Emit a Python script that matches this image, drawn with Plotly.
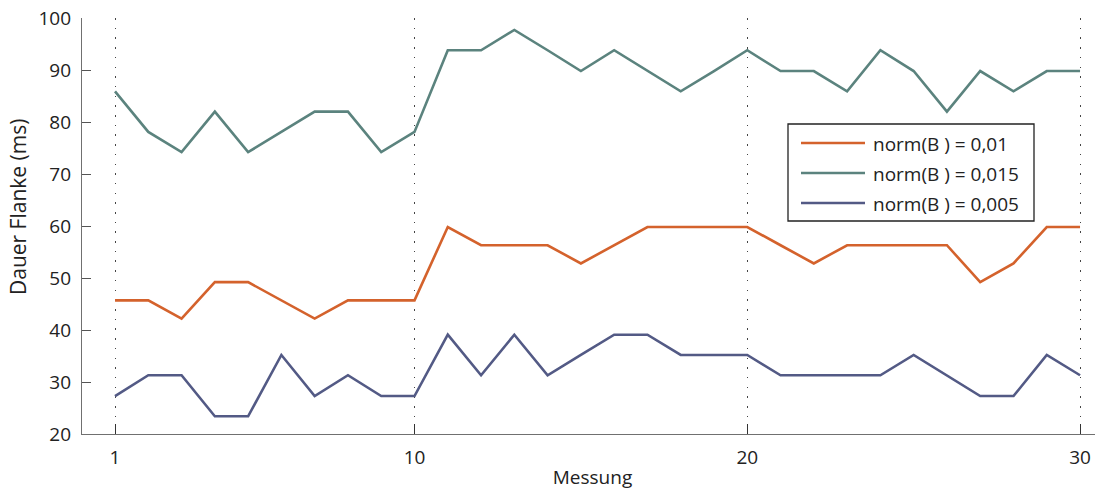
import plotly.graph_objects as go

# ---- data ----
messung = list(range(1, 31))
norm_001 = [45.7, 45.7, 42.2, 49.2, 49.2, 45.7, 42.2, 45.7, 45.7, 45.7,
            59.8, 56.3, 56.3, 56.3, 52.8, 56.3, 59.8, 59.8, 59.8, 59.8,
            56.3, 52.8, 56.3, 56.3, 56.3, 56.3, 49.2, 52.8, 59.8, 59.8]
norm_0015 = [85.9, 78.1, 74.2, 82.0, 74.2, 78.1, 82.0, 82.0, 74.2, 78.1,
             93.8, 93.8, 97.7, 93.8, 89.8, 93.8, 89.8, 85.9, 89.8, 93.8,
             89.8, 89.8, 85.9, 93.8, 89.8, 82.0, 89.8, 85.9, 89.8, 89.8]
norm_0005 = [27.3, 31.3, 31.3, 23.4, 23.4, 35.2, 27.3, 31.3, 27.3, 27.3,
             39.1, 31.3, 39.1, 31.3, 35.2, 39.1, 39.1, 35.2, 35.2, 35.2,
             31.3, 31.3, 31.3, 31.3, 35.2, 31.3, 27.3, 27.3, 35.2, 31.3]
series_names = ["norm(B ) = 0,01", "norm(B ) = 0,015", "norm(B ) = 0,005"]
series_colors = ["#D4622C", "#5B837E", "#535A85"]
x_ticks = [1, 10, 20, 30]
y_ticks = [20, 30, 40, 50, 60, 70, 80, 90, 100]

FONT = "Open Sans"
OFF = 8  # default body margin of the html page
PAGE_W, PAGE_H = 1103, 490
W, H = PAGE_W - OFF, PAGE_H - OFF
# plot area in page pixels: left 82, top 18, right 1103, bottom 434
L, T = 82 - OFF, 18 - OFF
R, B = 0, H - (434 - OFF)

fig = go.Figure()
for name, ys, col in zip(series_names, [norm_001, norm_0015, norm_0005], series_colors):
    fig.add_trace(go.Scatter(x=messung, y=ys, mode="lines", name=name,
                             line=dict(color=col, width=2.6), showlegend=False))

# page pixel -> paper helpers for the custom legend
pw, ph = W - L - R, H - T - B
def px(x):
    return (x - OFF - L) / pw
def py(y):
    return (H - B - (y - OFF)) / ph

shapes = [dict(type="rect", xref="paper", yref="paper",
               x0=px(788), x1=px(1034), y0=py(221), y1=py(124),
               line=dict(color="#222222", width=1.3), fillcolor="white", layer="above")]
annotations = []
for i, (name, col) in enumerate(zip(series_names, series_colors)):
    yy = 143 + 30 * i
    shapes.append(dict(type="line", xref="paper", yref="paper",
                       x0=px(801), x1=px(865), y0=py(yy), y1=py(yy),
                       line=dict(color=col, width=2.6), layer="above"))
    annotations.append(dict(xref="paper", yref="paper", x=px(871), y=py(yy + 1),
                            text=name, showarrow=False, xanchor="left", yanchor="middle",
                            font=dict(family=FONT, size=19, color="#222222")))

# y-axis title
annotations.append(dict(xref="paper", yref="paper", x=px(18), y=py(207),
                        text="Dauer Flanke (ms)", textangle=-90, showarrow=False,
                        xanchor="center", yanchor="middle",
                        font=dict(family=FONT, size=21, color="#222222")))

fig.update_layout(
    width=W, height=H,
    margin=dict(l=L, r=R, t=T, b=B, autoexpand=False),
    paper_bgcolor="white", plot_bgcolor="white",
    font=dict(family=FONT, size=19, color="#222222"),
    shapes=shapes, annotations=annotations,
    showlegend=False,
)
fig.update_xaxes(
    range=[0.008, 30.69], tickvals=x_ticks, ticktext=[str(v) for v in x_ticks],
    ticks="inside", ticklen=10, tickcolor="#333333", tickwidth=1.2,
    showline=True, linecolor="#707070", linewidth=1.3,
    showgrid=True, gridcolor="#444444", gridwidth=1, griddash="1.5px,8.2px",
    zeroline=False, ticklabelstandoff=6, automargin=False, ticklabeloverflow="allow",
    title=dict(text="Messung", font=dict(family=FONT, size=19), standoff=2),
)
fig.update_yaxes(
    range=[20, 100], tickvals=y_ticks,
    ticks="inside", ticklen=9, tickcolor="#555555", tickwidth=1.2,
    showline=True, linecolor="#707070", linewidth=1.3,
    showgrid=False, zeroline=False, ticklabelstandoff=6, automargin=False,
    ticklabeloverflow="allow",
)

fig.write_html("out.html")
